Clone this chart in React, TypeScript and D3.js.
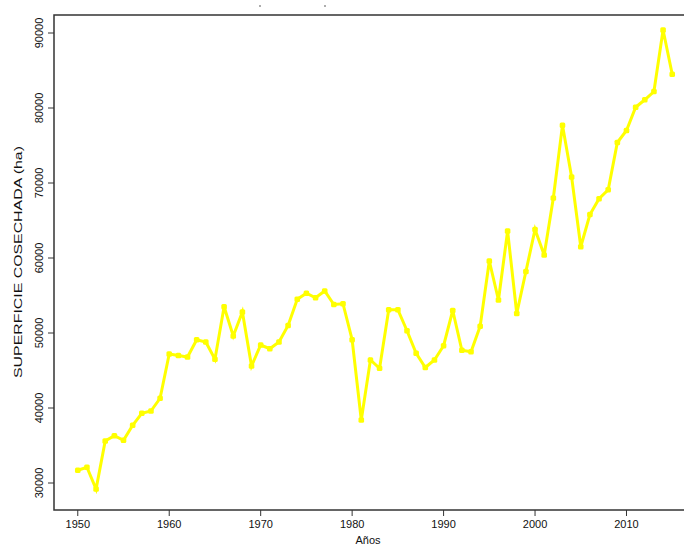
import React from "react";
import * as d3 from "d3";

// years 1950..2015
const years = d3.range(1950, 2016);

// superficie cosechada (ha)
const superficie = [
  31700, 32100, 29200, 35600, 36300, 35700, 37700, 39300, 39600, 41300,
  47200, 47000, 46800, 49100, 48800, 46500, 53500, 49600, 52800, 45600,
  48400, 47900, 48800, 51000, 54500, 55300, 54700, 55600, 53800, 53900,
  49100, 38400, 46400, 45300, 53100, 53100, 50300, 47300, 45400, 46400,
  48300, 53000, 47700, 47500, 50900, 59600, 54400, 63600, 52600, 58200,
  63800, 60400, 68000, 77700, 70800, 61500, 65800, 67900, 69100, 75400,
  77000, 80100, 81100, 82200, 90400, 84500,
];

const xTicks = [1950, 1960, 1970, 1980, 1990, 2000, 2010];
const yTicks = [30000, 40000, 50000, 60000, 70000, 80000, 90000];

const W = 684;
const H = 545;
const plot = { left: 54, top: 15, right: 696, bottom: 510 };
const font = "'Liberation Sans', Arial, sans-serif";

export default function App() {
  const x = d3.scaleLinear().domain([1947.4, 2017.6]).range([plot.left, plot.right]);
  const y = d3.scaleLinear().domain([26400, 92400]).range([plot.bottom, plot.top]);

  const pts: [number, number][] = years.map((yr, i) => [yr, superficie[i]]);
  const line = d3
    .line<[number, number]>()
    .x((d) => x(d[0]))
    .y((d) => y(d[1]));

  return (
    <svg
      width={W}
      height={H}
      style={{ position: "absolute", left: 0, top: 0, background: "#fff" }}
    >
      <rect x={0} y={0} width={W} height={H} fill="#fff" />
      {/* remnants of a title cut off at the top */}
      <circle cx={260} cy={6} r={0.8} fill="#444" />
      <circle cx={325} cy={6} r={0.8} fill="#444" />

      <path
        d={line(pts) || ""}
        fill="none"
        stroke="#ffff00"
        strokeWidth={3}
        strokeLinejoin="miter"
      />
      {pts.map((d, i) => (
        <rect
          key={i}
          x={x(d[0]) - 2.8}
          y={y(d[1]) - 2.8}
          width={5.6}
          height={5.6}
          rx={1.5}
          fill="#ffff00"
        />
      ))}

      <rect
        x={plot.left}
        y={plot.top}
        width={plot.right - plot.left}
        height={plot.bottom - plot.top}
        fill="none"
        stroke="#333"
        strokeWidth={1.5}
      />

      {/* x axis */}
      {xTicks.map((t) => (
        <g key={t}>
          <line x1={x(t)} x2={x(t)} y1={plot.bottom} y2={plot.bottom + 6} stroke="#333" strokeWidth={1} />
          <text x={x(t)} y={plot.bottom + 18} textAnchor="middle" fontFamily={font} fontSize={11} fill="#111">
            {t}
          </text>
        </g>
      ))}
      <text x={368} y={544} textAnchor="middle" fontFamily={font} fontSize={11} fill="#111">
        Años
      </text>

      {/* y axis */}
      {yTicks.map((t) => (
        <g key={t}>
          <line x1={plot.left - 6} x2={plot.left} y1={y(t)} y2={y(t)} stroke="#333" strokeWidth={1} />
          <text
            transform={`translate(${plot.left - 11},${y(t)}) rotate(-90)`}
            textAnchor="middle"
            fontFamily={font}
            fontSize={11}
            fill="#111"
          >
            {t}
          </text>
        </g>
      ))}
      <text
        transform={`translate(22,262) rotate(-90)`}
        textAnchor="middle"
        fontFamily={font}
        fontSize={11}
        textLength={232}
        lengthAdjust="spacingAndGlyphs"
        fill="#111"
      >
        SUPERFICIE COSECHADA (ha)
      </text>
    </svg>
  );
}
